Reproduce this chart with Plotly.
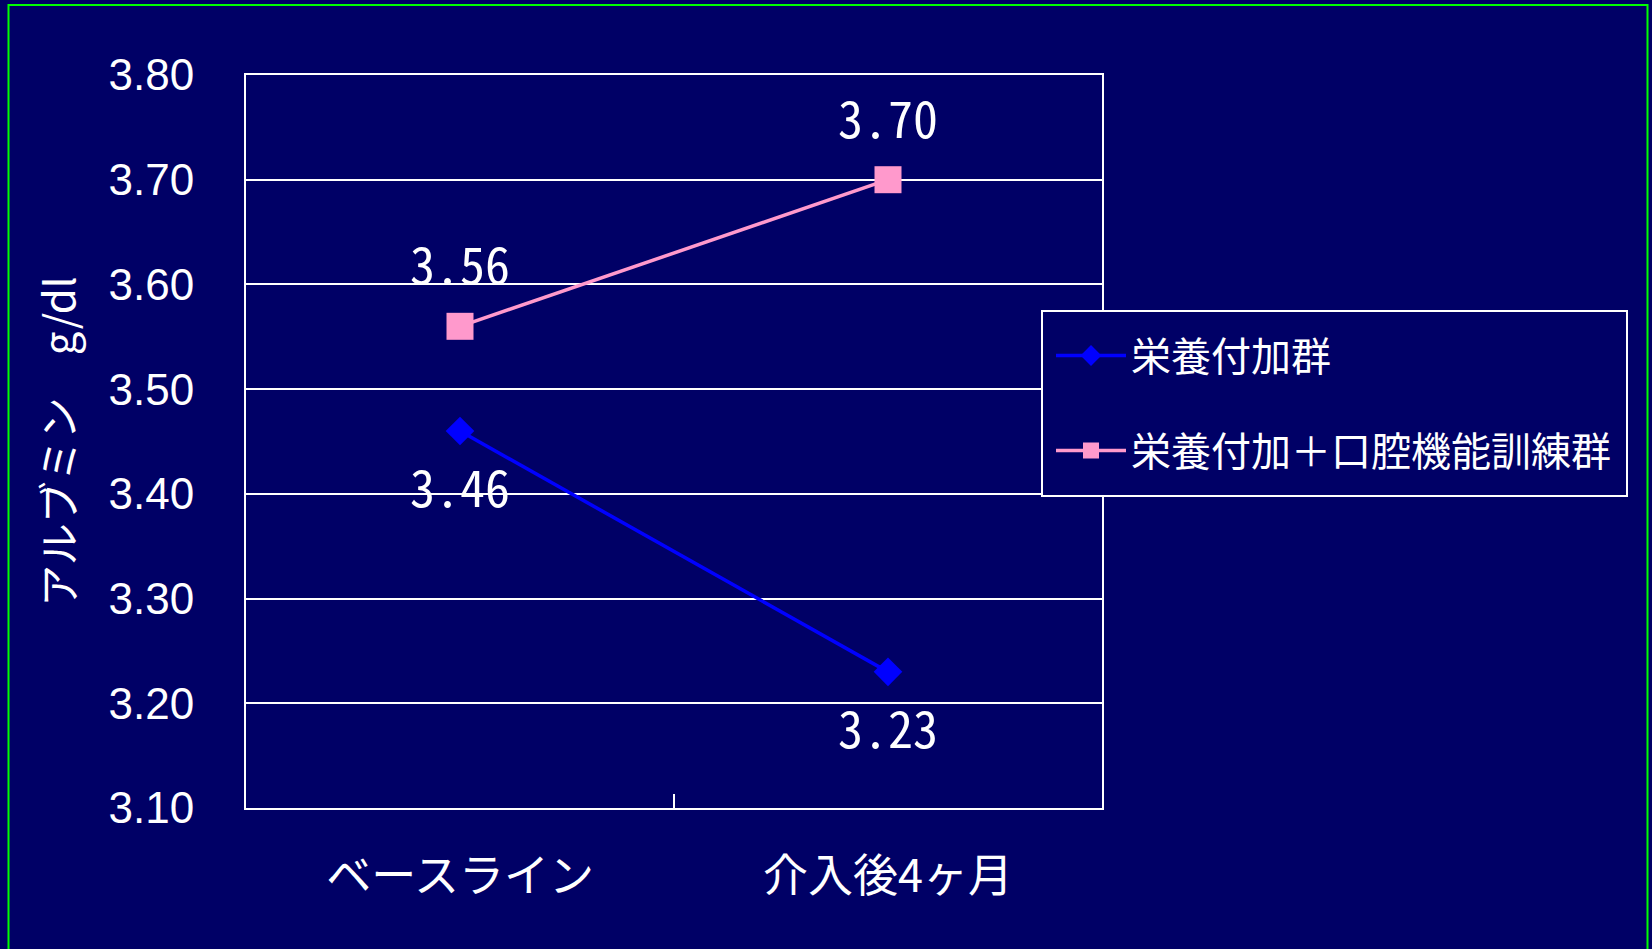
import plotly.graph_objects as go

categories = ["ベースライン", "介入後4ヶ月"]
series_names = ["栄養付加群", "栄養付加＋口腔機能訓練群"]
nutrition = [3.46, 3.23]
nutrition_oral = [3.56, 3.70]
y_ticks = [3.10, 3.20, 3.30, 3.40, 3.50, 3.60, 3.70, 3.80]

NAVY = "#000066"
W, H = 1652, 949
L, R, T, B = 246, 1102, 75, 808

fig = go.Figure()
fig.add_trace(go.Scatter(
    x=categories, y=nutrition, name=series_names[0], mode="lines+markers",
    line=dict(color="#0000FF", width=3.5),
    marker=dict(symbol="diamond", size=22, color="#0000FF"),
    legendgroup="a", hoverinfo="skip"))
fig.add_trace(go.Scatter(
    x=categories, y=nutrition_oral, name=series_names[1], mode="lines+markers",
    line=dict(color="#FF99CC", width=3.5),
    marker=dict(symbol="square", size=27, color="#FF99CC"),
    legendgroup="b", hoverinfo="skip"))

label_font = dict(family="Noto Sans Mono CJK JP, DejaVu Sans Mono, monospace", size=50, color="white")
for c, v in zip(categories, nutrition):
    fig.add_annotation(x=c, y=v, text=f"{v:.2f}", showarrow=False, yshift=-54,
                       yanchor="middle", font=label_font)
for c, v in zip(categories, nutrition_oral):
    fig.add_annotation(x=c, y=v, text=f"{v:.2f}", showarrow=False, yshift=64,
                       yanchor="middle", font=label_font)

def px_x(p):
    return (p - L) / (R - L)

def px_y(p):
    return (B - p) / (B - T)

# legend frame
fig.add_shape(type="rect", xref="paper", yref="paper",
              x0=px_x(1042), x1=px_x(1627), y0=px_y(496), y1=px_y(311),
              line=dict(color="white", width=2), fillcolor=NAVY, layer="above")
# outer green frame
fig.add_shape(type="rect", xref="paper", yref="paper",
              x0=px_x(8.5), x1=px_x(1647.5), y0=px_y(970), y1=px_y(5),
              line=dict(color="#00FF00", width=2), fillcolor="rgba(0,0,0,0)", layer="above")

fig.update_layout(
    width=W, height=H,
    margin=dict(l=L, r=W - R, t=T, b=H - B, autoexpand=False),
    paper_bgcolor=NAVY, plot_bgcolor=NAVY,
    showlegend=True,
    legend=dict(x=px_x(1051), y=px_y(323), xanchor="left", yanchor="top",
                bgcolor="rgba(0,0,0,0)", borderwidth=0,
                font=dict(family="Noto Sans CJK JP", size=40, color="white"),
                tracegroupgap=40, itemwidth=70, traceorder="grouped"),
    xaxis=dict(type="category", range=[-0.5, 1.5], showgrid=False,
               showline=True, linecolor="white", linewidth=2, mirror=True,
               ticks="inside", tickson="boundaries", ticklen=14, tickcolor="white", tickwidth=2,
               tickfont=dict(family="Noto Sans CJK JP", size=45, color="white"),
               ticklabelstandoff=28, zeroline=False),
    yaxis=dict(range=[3.10, 3.80], tickvals=y_ticks,
               ticktext=[f"{t:.2f}" for t in y_ticks],
               showgrid=True, gridcolor="white", gridwidth=2,
               showline=True, linecolor="white", linewidth=2, mirror=True,
               ticks="", ticklabelstandoff=41, zeroline=False,
               tickfont=dict(family="Liberation Sans, Arial", size=44, color="white"),
               title=dict(text="アルブミン　g/dl", standoff=20,
                          font=dict(family="Noto Sans CJK JP", size=42, color="white"))),
)

fig.write_html("out.html", config={"displayModeBar": False})
